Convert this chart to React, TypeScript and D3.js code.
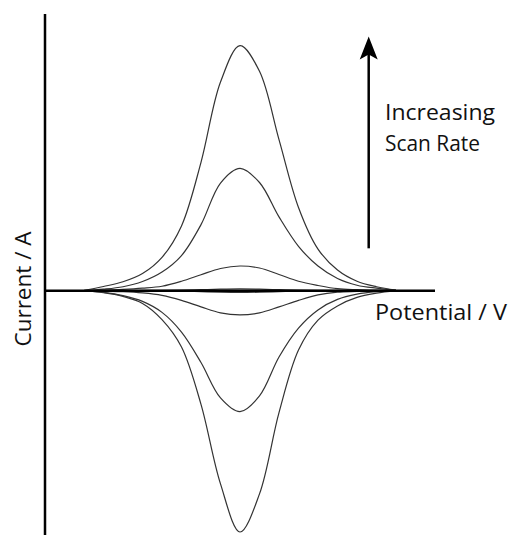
import React from 'react';
import * as d3 from 'd3';

// potential (V) sample points shared by every scan
const potential = [-0.4, -0.35, -0.3, -0.25, -0.2, -0.15, -0.1, -0.05, 0, 0.05, 0.1, 0.15, 0.2, 0.25, 0.3, 0.35, 0.4];

// anodic (upper) currents, slowest to fastest scan
const anodicSlowest = [0, 0, 0, 0.1, 0.1, 0.2, 0.4, 0.6, 0.7, 0.6, 0.4, 0.2, 0.1, 0.1, 0, 0, 0];
const anodicSlow = [0, 0.2, 0.5, 1.0, 1.8, 3.8, 6.4, 8.9, 9.9, 9.1, 6.5, 3.8, 2.1, 0.8, 0.4, 0.2, 0];
const anodicFast = [0, 0.6, 1.6, 3.7, 7.5, 14.1, 26.5, 43.2, 49.1, 43.4, 29.6, 17.8, 9.9, 4.9, 2.2, 1.0, 0.2];
const anodicFastest = [0.1, 1.7, 3.6, 6.9, 13.4, 26, 51.5, 83.7, 98.3, 88, 60.6, 33.4, 16.7, 8.3, 3.8, 1.6, 0.2];

// cathodic (lower) currents
const cathodicSlowest = [0, 0, 0, -0.1, -0.1, -0.2, -0.4, -0.6, -0.7, -0.6, -0.4, -0.2, -0.1, -0.1, 0, 0, 0];
const cathodicSlow = [0, -0.2, -0.4, -0.9, -1.9, -3.9, -6.5, -8.9, -9.7, -8.9, -6.5, -3.9, -1.7, -0.6, -0.3, -0.1, 0];
const cathodicFast = [0, -0.7, -2.0, -4.3, -8.7, -16.6, -28.8, -43, -48.5, -42.2, -26.6, -15, -7.7, -3.5, -1.4, -0.4, 0];
const cathodicFastest = [0, -0.8, -2.3, -5.1, -11.6, -22.6, -45.6, -77.5, -96.8, -81.5, -48.9, -23.8, -11.8, -6.1, -2.7, -1.0, 0];

const series = [
  anodicSlowest, anodicSlow, anodicFast, anodicFastest,
  cathodicSlowest, cathodicSlow, cathodicFast, cathodicFastest
];

const xDomain = [-0.5, 0.5];
const yDomain = [-98, 111];
const arrowX = 0.33;
const arrowFrom = 17;
const arrowTo = 102;

const font = "'Open Sans', 'Noto Sans', sans-serif";

export default function App() {
  const width = 512;
  const height = 535;

  const x = d3.scaleLinear().domain(xDomain).range([45, 435]);
  const y = d3.scaleLinear().domain(yDomain).range([535, 14]);

  const line = d3.line<number>()
    .x((d, i) => x(potential[i]))
    .y((d) => y(d))
    .curve(d3.curveCatmullRom.alpha(0.5));

  const ax = x(arrowX);
  const tipY = y(arrowTo);

  return (
    <svg
      width={width}
      height={height}
      style={{ position: 'absolute', left: 0, top: 0, background: '#fff' }}
    >
      {series.map((s, i) => (
        <path key={i} d={line(s) || ''} fill="none" stroke="#333" strokeWidth={1.2} />
      ))}

      {/* axes */}
      <line x1={x(xDomain[0])} x2={x(xDomain[0])} y1={y(yDomain[1])} y2={y(yDomain[0])}
        stroke="#000" strokeWidth={2.5} />
      <line x1={x(xDomain[0])} x2={x(xDomain[1])} y1={y(0)} y2={y(0)}
        stroke="#000" strokeWidth={2.5} />

      {/* scan-rate arrow */}
      <line x1={ax} x2={ax} y1={y(arrowFrom)} y2={tipY + 15} stroke="#000" strokeWidth={2.5} />
      <path
        d={`M${ax},${tipY} L${ax + 9},${tipY + 23} L${ax},${tipY + 18} L${ax - 9},${tipY + 23} Z`}
        fill="#000"
      />

      <text x={385} y={120} fontFamily={font} fontSize={22} fill="#111"
        textLength={110} lengthAdjust="spacingAndGlyphs">Increasing</text>
      <text x={385} y={151} fontFamily={font} fontSize={22} fill="#111"
        textLength={95} lengthAdjust="spacingAndGlyphs">Scan Rate</text>
      <text x={375} y={320} fontFamily={font} fontSize={22} fill="#111"
        textLength={132} lengthAdjust="spacingAndGlyphs">Potential / V</text>
      <text transform="translate(31,289) rotate(-90)" textAnchor="middle" fontFamily={font}
        fontSize={22} fill="#111" textLength={115} lengthAdjust="spacingAndGlyphs">Current / A</text>
    </svg>
  );
}
